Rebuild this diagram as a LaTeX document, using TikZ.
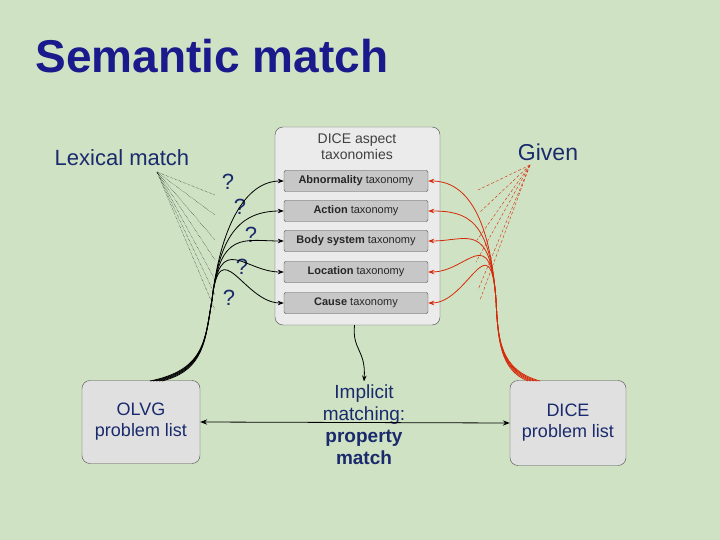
\documentclass[tikz,border=0pt]{standalone}
\usepackage{fontspec}
\setmainfont{Liberation Sans}
\usetikzlibrary{arrows.meta,calc}
\definecolor{bg}{HTML}{CFE3C4}
\definecolor{ttl}{HTML}{1A1A8C}
\definecolor{txt}{HTML}{1A2A6C}
\definecolor{rd}{HTML}{D42A0A}
\begin{document}
\begin{tikzpicture}[x=1pt,y=-1pt,
  tax/.style={draw=black!70,fill=black!22,rounded corners=2pt,minimum width=144pt,minimum height=21pt,inner sep=0pt,font=\fontsize{11}{12}\selectfont\color{black!85}},
  big/.style={draw=black!70,fill=black!12,rounded corners=8pt,font=\fontsize{18}{21}\selectfont\color{txt},align=center},
  bl/.style={-{Stealth[length=6pt]},thick},
  rl/.style={-{Stealth[length=6pt]},thick,rd},
  q/.style={font=\fontsize{22}{24}\selectfont\color{txt}}]
\fill[bg] (0,0) rectangle (720,540);
\useasboundingbox (0,0) rectangle (720,540);
\node[font=\fontsize{46}{50}\bfseries\selectfont,text=ttl,anchor=west] (title) at (32,56) {Semantic match};
\node[draw=black!70,fill=black!8,rounded corners=8pt,minimum width=165pt,minimum height=198pt] (outer) at (357.5,226) {};
\node[font=\fontsize{14}{16}\selectfont,align=center,text=black!75] (dice) at (357,147) {DICE aspect\\taxonomies};
\node[tax] (t1) at (356,181) {\textbf{Abnormality} taxonomy};
\node[tax] (t2) at (356,211) {\textbf{Action} taxonomy};
\node[tax] (t3) at (356,241) {\textbf{Body system} taxonomy};
\node[tax] (t4) at (356,272) {\textbf{Location} taxonomy};
\node[tax] (t5) at (356,303) {\textbf{Cause} taxonomy};
\node[big,minimum width=118pt,minimum height=83pt] (olvg) at (141,422) {OLVG\\problem list};
\node[big,minimum width=116pt,minimum height=85pt] (dl) at (568,423) {DICE\\problem list};
\node[font=\fontsize{22}{24}\selectfont,text=txt] (lex) at (122,158) {Lexical match};
\node[font=\fontsize{23}{25}\selectfont,text=txt] (given) at (548,152) {Given};
\node[q] (q1) at (228,182) {?};
\node[q] (q2) at (240,207) {?};
\node[q] (q3) at (251,235) {?};
\node[q] (q4) at (242,267) {?};
\node[q] (q5) at (229,298) {?};
\node[font=\fontsize{19}{22}\selectfont,text=txt,align=center] (imp) at (364,425) {Implicit\\matching:\\\textbf{property}\\\textbf{match}};
\draw[{Stealth[length=7pt]}-{Stealth[length=7pt]},thick] (olvg.east) -- (dl.west);
\draw[bl] ($(outer.south)+(-3,0)$) .. controls (352,350) and (366,350) .. (imp.north);
% black curves
\coordinate (ob) at (150,381);
\foreach \t/\o in {t1/0,t2/3,t3/6,t4/9,t5/12}{
  \draw[bl] ($(ob)+(\o,0)$) .. controls (205,370) and (205,340) .. (212,300) .. controls (220,230) and ($(\t.west)+(-40,0)$) .. (\t.west);
}
% red curves
\coordinate (db) at (540,381);
\foreach \t/\o in {t1/0,t2/3,t3/6,t4/9,t5/12}{
  \draw[rl] ($(db)-(\o,0)$) .. controls (500,370) and (498,340) .. (496,300) .. controls (490,220) and ($(\t.east)+(40,0)$) .. (\t.east);
}
% dotted / dashed lines
\coordinate (lp) at (157,172);
\foreach \y in {195,215,240,260,280,295,310}{
  \draw[densely dotted,thin] (lp) -- (215,\y);
}
\coordinate (gp) at (530,165);
\foreach \x/\y in {478/190,480/212,477/240,476/262,478/290,480/300}{
  \draw[densely dashed,thin,rd] (gp) -- (\x,\y);
}
\end{tikzpicture}
\end{document}
